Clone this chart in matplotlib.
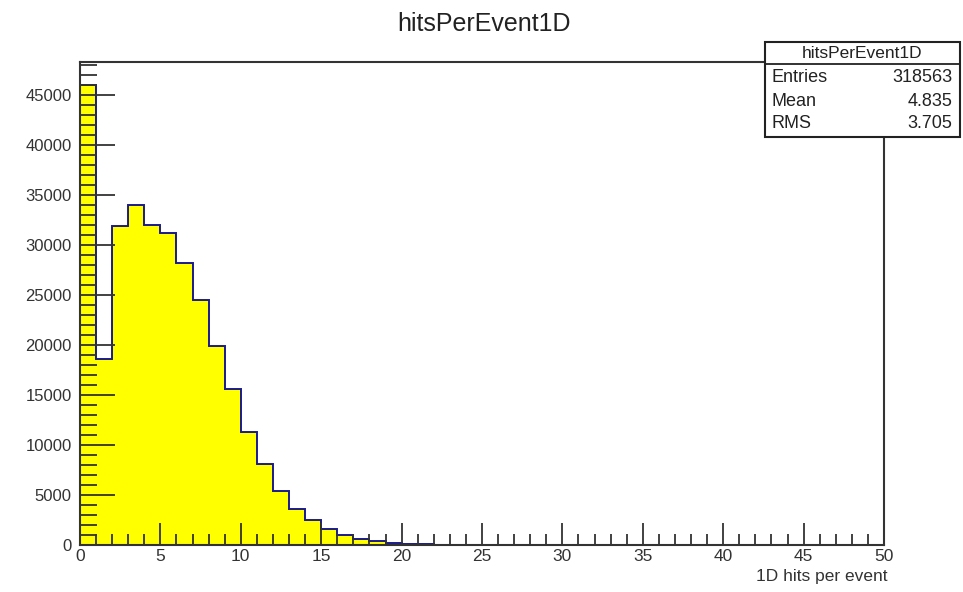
import matplotlib
matplotlib.use('Agg')
import matplotlib.pyplot as plt
from matplotlib.ticker import MultipleLocator
import numpy as np

# histogram contents, one bin per unit from 0 to 50
bin_edges = np.arange(0, 51, 1)
counts = [46000, 18600, 31900, 34000, 32000, 31200, 28200, 24500, 19900, 15600,
          11300, 8070, 5430, 3600, 2500, 1600, 1000, 630, 430, 250,
          110, 70, 50, 30, 20] + [0] * 25

stat_names = ['Entries', 'Mean', 'RMS']
stat_values = ['318563', '4.835', '3.705']
hist_name = 'hitsPerEvent1D'

plt.rcParams['font.family'] = ['Liberation Sans', 'DejaVu Sans']

W, H = 963, 592
fig = plt.figure(figsize=(W / 100, H / 100), dpi=100)
ax = fig.add_axes([80 / W, 1 - 545 / H, (884 - 80) / W, (545 - 62) / H])

ax.stairs(counts, bin_edges, fill=True, color='#ffff00', zorder=1)
ax.stairs(counts, bin_edges, color='#1a1a8c', linewidth=1.4, zorder=2)

ax.set_xlim(0, 50)
ax.set_ylim(0, max(counts) * 1.05)

ax.xaxis.set_major_locator(MultipleLocator(5))
ax.xaxis.set_minor_locator(MultipleLocator(1))
ax.yaxis.set_major_locator(MultipleLocator(5000))
ax.yaxis.set_minor_locator(MultipleLocator(1000))

ax.tick_params(axis='x', which='major', direction='in', length=16, width=1.3,
               labelsize=12.5, colors='#333333', pad=3)
ax.tick_params(axis='x', which='minor', direction='in', length=8, width=1.3, colors='#333333')
ax.tick_params(axis='y', which='major', direction='in', length=25, width=1.3,
               labelsize=12, colors='#333333', pad=6)
ax.tick_params(axis='y', which='minor', direction='in', length=12, width=1.3, colors='#333333')
for sp in ax.spines.values():
    sp.set_linewidth(1.5)
    sp.set_color('#333333')
    sp.set_zorder(3)
ax.set_axisbelow(False)

fig.text(887 / W, 1 - 577 / H, '1D hits per event', ha='right', va='center',
         fontsize=12.5, color='#333333')
fig.text(484 / W, 1 - 24 / H, hist_name, ha='center', va='center',
         fontsize=18, color='#222222')

# stats box
bx0, bx1, by0, by1 = 765, 960, 42, 137
box = plt.Rectangle((bx0 / W, 1 - by1 / H), (bx1 - bx0) / W, (by1 - by0) / H,
                    transform=fig.transFigure, facecolor='white',
                    edgecolor='#222222', linewidth=1.5, zorder=5)
fig.patches.append(box)
fig.add_artist(plt.Line2D([bx0 / W, bx1 / W], [1 - 64 / H, 1 - 64 / H],
                          transform=fig.transFigure, color='#222222', linewidth=1.3, zorder=6))
fig.text((bx0 + bx1) / 2 / W, 1 - 54 / H, hist_name, ha='center', va='center',
         fontsize=12.5, color='#222222', zorder=7)
row_y = [78, 101, 123]
for name, val, ry in zip(stat_names, stat_values, row_y):
    yy = 1 - ry / H
    fig.text((bx0 + 6) / W, yy, name, ha='left', va='center', fontsize=13,
             color='#222222', zorder=7)
    fig.text((bx1 - 8) / W, yy, val, ha='right', va='center', fontsize=13,
             color='#222222', zorder=7)

fig.savefig('out.png', dpi=100)
